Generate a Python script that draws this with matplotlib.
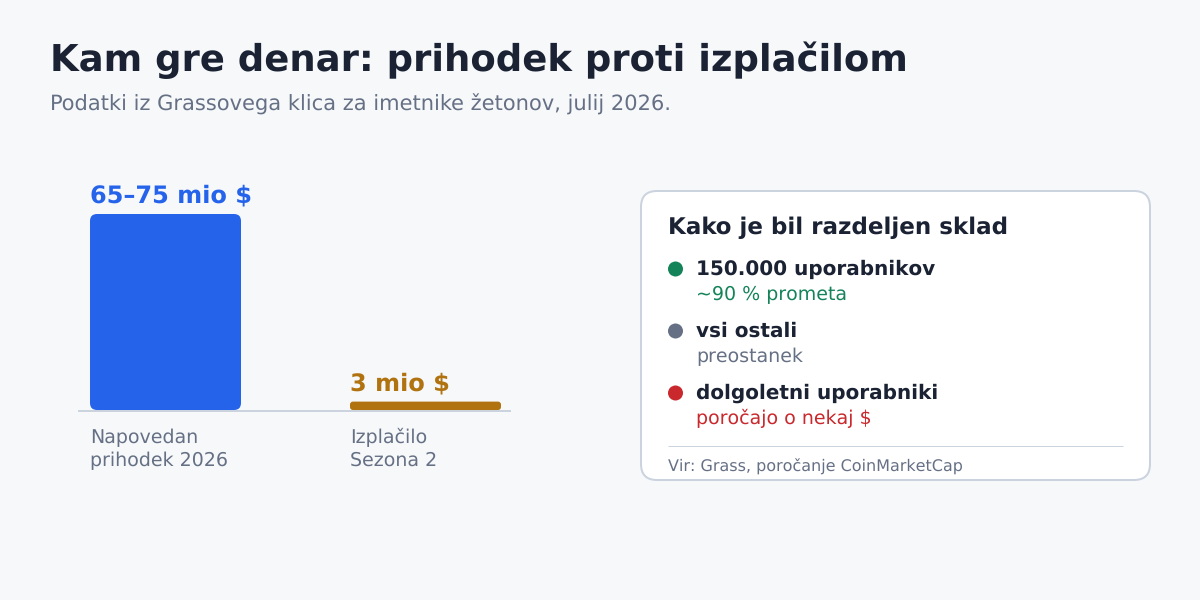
import matplotlib
matplotlib.use("Agg")
import matplotlib.pyplot as plt
from matplotlib.patches import FancyBboxPatch, Circle

# data
bar_values = [70, 3]  # 65-75 -> sredina
bar_labels = ["65–75 mio $", "3 mio $"]
bar_names = ["Napovedan\nprihodek 2026", "Izplačilo\nSezona 2"]
bar_colors = ["#2563eb", "#b1730f"]

title = "Kam gre denar: prihodek proti izplačilom"
subtitle = "Podatki iz Grassovega klica za imetnike žetonov, julij 2026."

panel_title = "Kako je bil razdeljen sklad"
group_names = ["150.000 uporabnikov", "vsi ostali", "dolgoletni uporabniki"]
group_notes = ["~90 % prometa", "preostanek", "poročajo o nekaj $"]
group_colors = ["#15835a", "#667085", "#c9282d"]
source = "Vir: Grass, poročanje CoinMarketCap"

BG = "#f6f8fa"
DARK = "#1a2233"
GRAY = "#667085"
LINE = "#cbd3df"


def px(size):
    # velikost v pikslih -> pt pri dpi 100
    return size * 0.72


plt.rcParams["font.family"] = "DejaVu Sans"
plt.rcParams["text.hinting"] = "no_hinting"
plt.rcParams["text.hinting_factor"] = 1
fig = plt.figure(figsize=(12, 6), dpi=100, facecolor=BG)

# ozadje v pikslih (tekst, kartica)
bg = fig.add_axes([0, 0, 1, 1])
bg.set_xlim(0, 1200)
bg.set_ylim(600, 0)
bg.axis("off")

bg.text(50, 71, title, fontsize=px(37), fontweight="bold", color=DARK, va="baseline")
bg.text(50, 111, subtitle, fontsize=px(21), color=GRAY, va="baseline")

# stolpci: 2.8 px na mio $, izhodisce na y=410
ax = fig.add_axes([78 / 1200, (600 - 410) / 600, (511 - 78) / 1200, 196 / 600])
ax.set_xlim(78, 511)
ax.set_ylim(0, 70)
ax.axis("off")
aspect = 1 / 2.8
bar_left = [90, 350]
label_gap = [12, 11]
for i in range(2):
    r = 7 if bar_values[i] > 10 else 3
    ax.add_patch(FancyBboxPatch((bar_left[i], 0), 151, bar_values[i],
                                boxstyle=f"round,pad=0,rounding_size={r}",
                                mutation_aspect=aspect, fc=bar_colors[i], ec="none"))
    ax.annotate(bar_labels[i], (bar_left[i], bar_values[i]), xytext=(0, px(label_gap[i])),
                textcoords="offset points", fontsize=px(24), fontweight="bold",
                color=bar_colors[i], va="baseline", annotation_clip=False)
    # baseline pri vec vrsticah = zadnja vrstica
    ax.annotate(bar_names[i], (bar_left[i], 0), xytext=(0, -px(56)),
                textcoords="offset points", fontsize=px(19), color=GRAY,
                va="baseline", linespacing=1.3, annotation_clip=False)

bg.plot([78, 511], [410.8, 410.8], color=LINE, lw=px(2), solid_capstyle="butt", zorder=5)

# kartica
bg.add_patch(FancyBboxPatch((641, 191), 509, 289, boxstyle="round,pad=0,rounding_size=16",
                            fc="white", ec=LINE, lw=px(2)))
bg.text(668, 234, panel_title, fontsize=px(23), fontweight="bold", color=DARK, va="baseline")

for i in range(3):
    y = 269 + 62 * i
    bg.add_patch(Circle((675.5, y), 7.5, fc=group_colors[i], ec="none"))
    bg.text(696, y + 6, group_names[i], fontsize=px(20), fontweight="bold", color=DARK, va="baseline")
    bg.text(696, y + 31, group_notes[i], fontsize=px(19), color=group_colors[i], va="baseline")

bg.plot([668, 1123], [446, 446], color=LINE, lw=px(1), solid_capstyle="butt")
bg.text(668, 472, source, fontsize=px(16), color=GRAY, va="baseline")

fig.savefig("out.png", dpi=100, facecolor=BG)
